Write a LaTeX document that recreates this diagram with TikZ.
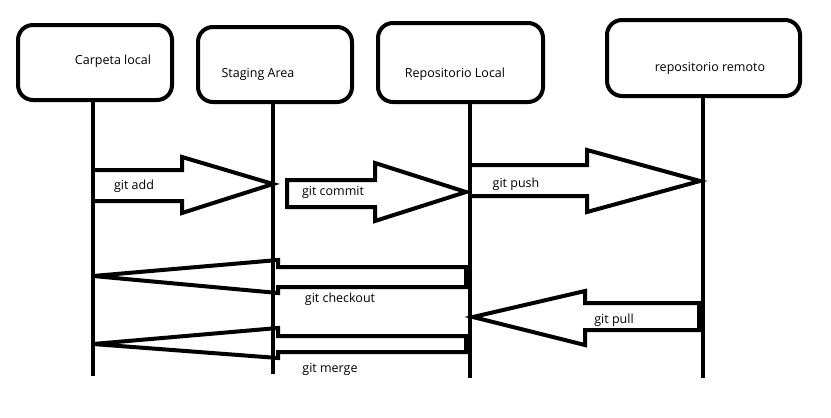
\documentclass[tikz,border=0pt]{standalone}
\usepackage{fontspec}
\setmainfont{Open Sans}
\begin{document}
\begin{tikzpicture}[x=1pt,y=-1pt,line width=4pt,line join=miter,
  lane/.style={draw,rounded corners=15pt,minimum width=154pt,minimum height=75pt,inner sep=0pt},
  lbl/.style={font=\fontsize{12.5}{14}\selectfont,inner sep=0pt},
  blockarrow/.style={draw,fill=white}]
\useasboundingbox[fill=white] (0,0) rectangle (831,418);
% boxes
\node[lane] (b1) at (95,62.5) {};
\node[lane] (b2) at (275,64.5) {};
\node[lane,minimum width=165pt,minimum height=79pt] (b3) at (460.5,62.5) {};
\node[lane,minimum width=193pt,minimum height=76pt] (b4) at (703.5,58) {};
\node[lbl] (t1) at (113,61) {Carpeta local};
\node[lbl] (t2) at (258,74) {Staging Area};
\node[lbl] (t3) at (455,74) {Repositorio Local};
\node[lbl] (t4) at (710,68) {repositorio remoto};
% lifelines
\coordinate (e1) at (93,376);
\coordinate (e2) at (273,374);
\coordinate (e3) at (470,378);
\coordinate (e4) at (703,378);
% git add
\draw[blockarrow] (93,170) -- (182,170) -- (182,157) -- (273,184) -- (182,213) -- (182,201) -- (93,201);
% git commit
\draw[blockarrow] (287,180) -- (375,180) -- (375,163) -- (466,192) -- (375,221) -- (375,207) -- (287,207) -- cycle;
% git push
\draw[blockarrow] (472,165) -- (587,165) -- (587,150) -- (700,181) -- (587,212) -- (587,196) -- (472,196);
% git checkout
\draw[blockarrow] (466,267) -- (278,267) -- (278,260) -- (93,276) -- (278,293) -- (278,287) -- (466,287) -- cycle;
% git merge
\draw[blockarrow] (466,336) -- (278,336) -- (278,328) -- (93,344) -- (278,358) -- (278,352) -- (466,352) -- cycle;
% git pull
\draw[blockarrow] (703,303) -- (585,303) -- (585,291) -- (473,317) -- (585,345) -- (585,330) -- (703,330);
\fill (697,303) rectangle (703,330);
% lifelines
\draw (b1.south -| e1) -- (e1);
\draw (b2.south -| e2) -- (e2);
\draw (b3.south -| e3) -- (e3);
\draw (b4.south -| e4) -- (e4);
% labels
\node[lbl] (a1) at (134,186) {git add};
\node[lbl] (a2) at (333,192) {git commit};
\node[lbl] (a3) at (516,184) {git push};
\node[lbl] (a4) at (340,299) {git checkout};
\node[lbl] (a5) at (330,369) {git merge};
\node[lbl] (a6) at (614,320) {git pull};
\end{tikzpicture}
\end{document}
